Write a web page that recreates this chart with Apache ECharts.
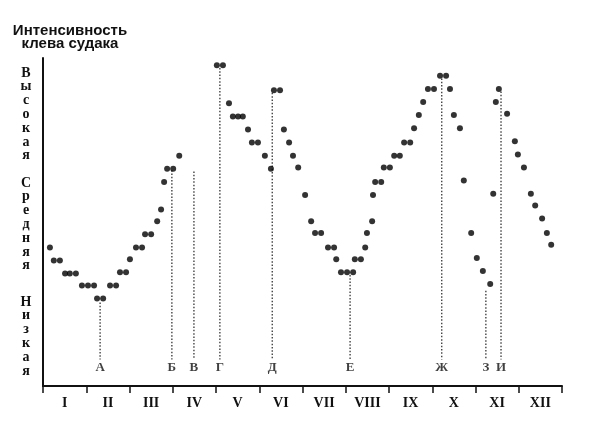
<!DOCTYPE html>
<html><head><meta charset="utf-8">
<script src="https://cdn.jsdelivr.net/npm/echarts@6/dist/echarts.min.js"></script>
<style>html,body{margin:0;padding:0;background:#fff}#c{width:600px;height:441px}</style>
</head><body><div id="c"></div>
<script>
// Month labels (Roman numerals)
const months = ['I','II','III','IV','V','VI','VII','VIII','IX','X','XI','XII'];
const titleLines = ['Интенсивность', 'клева судака'];
const levelNames = ['Высокая', 'Средняя', 'Низкая'];

// Dots: time in months from 1 January, and bite intensity level
const dotMonth = [0.16,0.25,0.39,0.51,0.62,0.76,0.90,1.04,1.18,1.25,1.39,1.55,1.69,1.78,1.92,2.01,2.15,2.29,2.36,2.50,2.64,2.73,2.80,2.87,3.01,3.15,
  4.02,4.16,4.30,4.39,4.51,4.62,4.74,4.83,4.97,5.13,5.27,5.34,5.48,5.57,5.69,5.78,5.90,6.06,6.20,6.29,6.43,6.59,6.73,6.78,6.89,7.03,7.17,7.21,7.35,7.45,7.49,7.61,7.63,7.68,7.82,7.88,8.02,8.12,8.25,8.35,8.49,8.58,8.69,8.79,8.90,9.04,9.18,9.32,
  9.41,9.50,9.64,9.73,9.90,10.03,10.17,10.34,10.41,10.47,10.54,10.73,10.91,10.98,11.12,11.28,11.38,11.54,11.65,11.75];
const dotLevel = [3.9,2.9,2.9,1.9,1.9,1.9,1,1,1,0,0,1,1,2,2,3,3.9,3.9,4.9,4.9,5.9,6.8,8.9,9.9,9.9,10.9,
  17.8,17.8,14.9,13.9,13.9,13.9,12.9,11.9,11.9,10.9,9.9,15.9,15.9,12.9,11.9,10.9,10,7.9,5.9,5,5,3.9,3.9,3,2,2,2,3,3,3.9,5,5.9,7.9,8.9,8.9,10,10,10.9,10.9,11.9,11.9,13,14,15,16,16,17,17,
  16,14,13,9,5,3.1,2.1,1.1,8,15,16,14.1,12,11,10,8,7.1,6.1,5,4.1];

// Lettered reference lines: letter, time in months, level of top end
const markerLetters = ['А','Б','В','Г','Д','Е','Ж','З','И'];
const markerMonth = [1.32, 2.98, 3.49, 4.09, 5.30, 7.10, 9.22, 10.24, 10.59];
const markerLevel = [-0.3, 9.8, 9.7, 17.6, 15.7, 1.8, 16.8, 0.6, 15.8];

const LINE_BOTTOM = -4.65;
const LETTER_LEVEL = -5.25;

const chart = echarts.init(document.getElementById('c'), null, {renderer: 'canvas'});

const series = [];
markerLetters.forEach((L, i) => {
  series.push({
    type: 'line', xAxisIndex: 1, yAxisIndex: 0, silent: true, symbol: 'none',
    data: [[markerMonth[i], markerLevel[i]], [markerMonth[i], LINE_BOTTOM]],
    lineStyle: {color: '#222', width: 1.2, type: [1.5, 1.8]}, z: 1
  });
});
series.push({
  type: 'scatter', xAxisIndex: 1, yAxisIndex: 0, silent: true,
  data: markerLetters.map((L, i) => [markerMonth[i], LETTER_LEVEL, L]),
  symbolSize: 0,
  label: {show: true, position: 'inside', formatter: p => p.data[2],
    color: '#111', fontFamily: 'Liberation Serif', fontWeight: 'bold', fontSize: 13}
});
series.push({
  type: 'scatter', xAxisIndex: 1, yAxisIndex: 0, silent: true,
  data: dotMonth.map((m, i) => [m, dotLevel[i]]),
  symbol: 'circle', symbolSize: 6,
  itemStyle: {color: '#000'}, z: 3
});

const letterStack = s => s.split('').join('\n');
const graphics = [
  {type: 'text', x: 70, y: 31, style: {text: titleLines[0], font: 'bold 15px "Liberation Sans"', fill: '#111', align: 'center', verticalAlign: 'middle'}},
  {type: 'text', x: 70, y: 44, style: {text: titleLines[1], font: 'bold 15px "Liberation Sans"', fill: '#111', align: 'center', verticalAlign: 'middle'}}
];
const levelTops = [66, 176, 295];
levelNames.forEach((n, i) => {
  graphics.push({type: 'text', x: 26, y: levelTops[i], style: {
    text: letterStack(n), font: 'bold 14px "Liberation Serif"', lineHeight: 13.8,
    fill: '#111', align: 'center', verticalAlign: 'top'}});
});

chart.setOption({
  animation: false,
  backgroundColor: '#fff',
  grid: {left: 43, right: 38, top: 58, bottom: 55},
  xAxis: [
    {type: 'category', data: months, position: 'bottom', boundaryGap: true,
     axisLine: {show: true, onZero: false, lineStyle: {color: '#111', width: 2}},
     axisTick: {show: true, length: 7, lineStyle: {color: '#111', width: 1.5}},
     axisLabel: {color: '#111', fontFamily: 'Liberation Serif', fontWeight: 'bold', fontSize: 14, margin: 10},
     splitLine: {show: false}},
    {type: 'value', min: 0, max: 12, show: false}
  ],
  yAxis: [{type: 'value', min: -6.68, max: 18.36,
    axisLine: {show: true, onZero: false, lineStyle: {color: '#111', width: 2}},
    axisTick: {show: false}, axisLabel: {show: false}, splitLine: {show: false}}],
  graphic: graphics,
  series: series
});
</script>
</body></html>
